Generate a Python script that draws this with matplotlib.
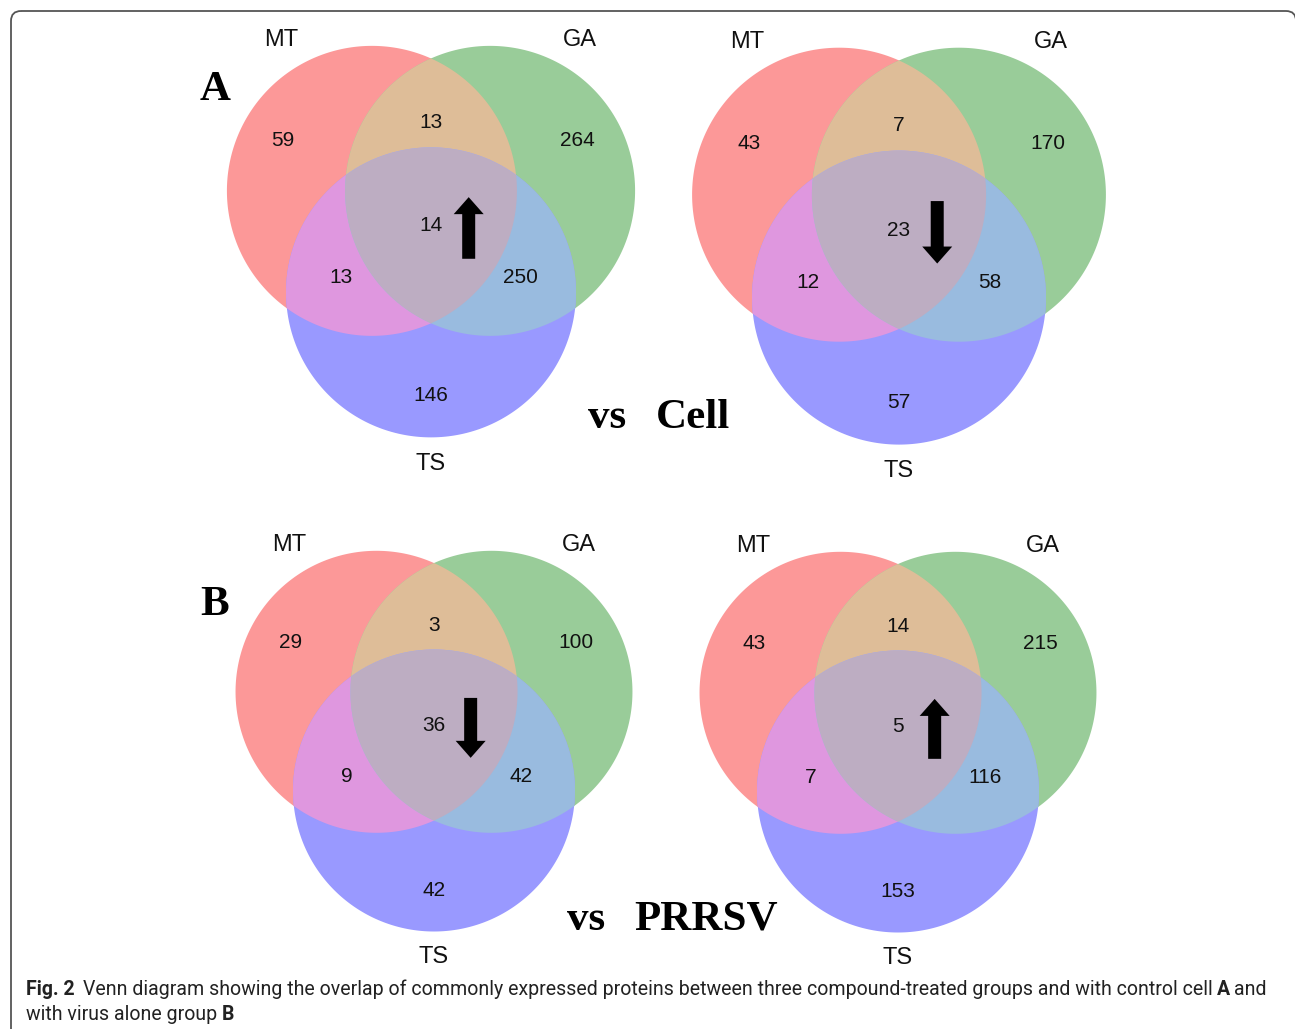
import matplotlib
matplotlib.use("Agg")
import matplotlib.pyplot as plt
import numpy as np
from matplotlib import font_manager
from matplotlib.patches import Polygon, FancyArrow, FancyBboxPatch

set_names = ["MT", "GA", "TS"]
# region order: MT only, MT&GA, GA only, MT&GA&TS, MT&TS, GA&TS, TS only
cell_up = [59, 13, 264, 14, 13, 250, 146]
cell_down = [43, 7, 170, 23, 12, 58, 57]
prrsv_down = [29, 3, 100, 36, 9, 42, 42]
prrsv_up = [43, 14, 215, 5, 7, 116, 153]

caption_line1 = "Venn diagram showing the overlap of commonly expressed proteins between three compound-treated groups and with control cell"
caption_line2 = "with virus alone group"

set_colors = ["#fc9898", "#99cc99", "#9999ff"]
pair_colors = {(0, 1): "#debd98", (0, 2): "#df97df", (1, 2): "#99bbdf"}
all_color = "#bdadc2"

# label spots relative to the diagram centroid, in units of the radius
region_pos = [(-1.02, -0.60), (0.0, -0.72), (1.01, -0.60), (0.0, -0.01),
              (-0.62, 0.35), (0.62, 0.35), (0.0, 1.16)]
name_pos = [(-1.03, -1.29), (1.03, -1.29), (0.0, 1.63)]

sans = "Liberation Sans"
serif = "Liberation Serif"


def pick_font(names):
    for name in names:
        try:
            font_manager.findfont(font_manager.FontProperties(family=name), fallback_to_default=False)
            return name
        except Exception:
            pass
    return "DejaVu Sans"


caption_font = pick_font(["Liberation Sans Narrow", "Roboto", "Open Sans"])


def circle_pts(x, y, r, n=360):
    t = np.linspace(0, 2 * np.pi, n, endpoint=False)
    return np.column_stack([x + r * np.cos(t), y + r * np.sin(t)])


def clip(subject, clipper):
    # Sutherland-Hodgman, both polygons convex and counter-clockwise
    def inside(p, a, b):
        return (b[0] - a[0]) * (p[1] - a[1]) - (b[1] - a[1]) * (p[0] - a[0]) >= 0

    def cross_pt(s, e, a, b):
        d1 = e - s
        d2 = b - a
        den = d1[0] * d2[1] - d1[1] * d2[0]
        t = ((a[0] - s[0]) * d2[1] - (a[1] - s[1]) * d2[0]) / den
        return s + t * d1

    out = list(subject)
    for i in range(len(clipper)):
        a, b = clipper[i - 1], clipper[i]
        inp = out
        out = []
        if not inp:
            break
        s = inp[-1]
        for e in inp:
            if inside(e, a, b):
                if not inside(s, a, b):
                    out.append(cross_pt(s, e, a, b))
                out.append(e)
            elif inside(s, a, b):
                out.append(cross_pt(s, e, a, b))
            s = e
    return np.array(out)


def venn(ax, cx, cy, r, counts, arrow):
    d = 0.815 * r
    v = 0.70 * r
    centers = [(cx - d / 2, cy - v / 3), (cx + d / 2, cy - v / 3), (cx, cy + 2 * v / 3)]
    circles = [circle_pts(x, y, r) for x, y in centers]
    for pts, col in zip(circles, set_colors):
        ax.add_patch(Polygon(pts, closed=True, fc=col, ec="none"))
    for (i, j), col in pair_colors.items():
        ax.add_patch(Polygon(clip(circles[i], circles[j]), closed=True, fc=col, ec="none"))
    core = clip(clip(circles[0], circles[1]), circles[2])
    ax.add_patch(Polygon(core, closed=True, fc=all_color, ec="none"))

    # va="center" sits a touch high for digits, hence the small nudge down
    for n, (dx, dy) in zip(counts, region_pos):
        ax.text(cx + dx * r, cy + dy * r + 2.5, str(n), ha="center", va="center",
                fontsize=15, family=sans, color="#111111")
    for name, (dx, dy) in zip(set_names, name_pos):
        ax.text(cx + dx * r, cy + dy * r + 2.5, name, ha="center", va="center",
                fontsize=17, family=sans, color="#111111")

    x = cx + 0.26 * r
    top, bottom = cy - 0.19 * r, cy + 0.235 * r
    if arrow == "up":
        y0, dy = bottom, top - bottom
    else:
        y0, dy = top, bottom - top
    ax.add_patch(FancyArrow(x, y0, 0, dy, width=13, head_width=30, head_length=17,
                            length_includes_head=True, color="black", lw=0))


fig = plt.figure(figsize=(12.95, 10.29), dpi=100)
ax = fig.add_axes([0, 0, 1, 1])
ax.set_xlim(0, 1295)
ax.set_ylim(1029, 0)
ax.axis("off")

ax.add_patch(FancyBboxPatch((11, 11), 1285, 1040, boxstyle="round,pad=0,rounding_size=10",
                            fc="none", ec="#555555", lw=1.3))

venn(ax, 431, 224.7, 145, cell_up, "up")
venn(ax, 899, 229, 147, cell_down, "down")
venn(ax, 434, 724.7, 141, prrsv_down, "down")
venn(ax, 898, 725.7, 141, prrsv_up, "up")

big = dict(family=serif, fontweight="bold", fontsize=31, va="baseline", ha="left")
ax.text(200, 100, "A", **big)
ax.text(200, 615, "B", **big)
ax.text(588, 428, "vs", **big)
ax.text(656, 428, "Cell", **big)
ax.text(567, 930, "vs", **big)
ax.text(634, 930, "PRRSV", **big)

# caption, runs of normal and bold text placed one after another
renderer = fig.canvas.get_renderer()
cap_size = 15


def run(x, y, s, weight, size):
    t = ax.text(x, y, s, family=caption_font, fontsize=size, fontweight=weight,
                va="baseline", ha="left", color="#222222")
    return x + t.get_window_extent(renderer).width


probe = ax.text(0, 0, "Fig. 2  " + caption_line1 + " A and", family=caption_font, fontsize=cap_size)
w = probe.get_window_extent(renderer).width
probe.remove()
cap_size = cap_size * 1241 / w
space = cap_size * 0.3

x = run(26, 995, "Fig. 2", "bold", cap_size)
x = run(x + 2 * space, 995, caption_line1, "normal", cap_size)
x = run(x + space, 995, "A", "bold", cap_size)
run(x + space, 995, "and", "normal", cap_size)
x = run(26, 1020, caption_line2, "normal", cap_size)
run(x + space, 1020, "B", "bold", cap_size)

fig.savefig("out.png", dpi=100)
